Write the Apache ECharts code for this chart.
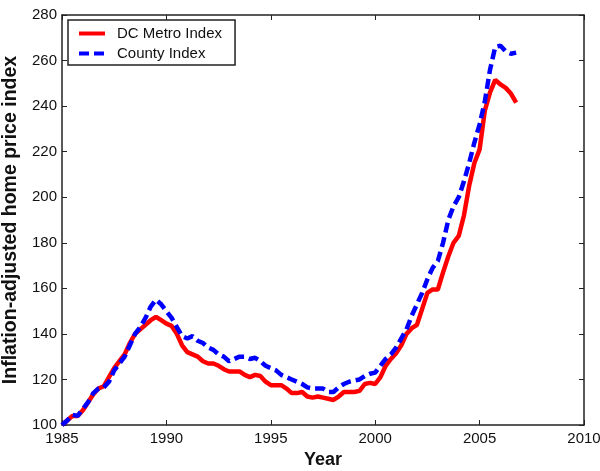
<!DOCTYPE html>
<html>
<head>
<meta charset="utf-8">
<script src="https://cdn.jsdelivr.net/npm/echarts@6/dist/echarts.min.js"></script>
<style>html,body{margin:0;padding:0;background:#fff;}#c{width:600px;height:471px;}</style>
</head>
<body>
<div id="c"></div>
<script>
const years = [];
for (let i = 0; i < 88; i++) years.push(1985 + i * 0.25);
const dcMetro = [
100,102,104,104, 106.5,110,113.5,116, 117,121,125,128, 131,136,140,142,
144,146,147.5,146, 144.5,143.5,140,135, 132,131,130,128, 127,127,126,124.5,
123.5,123.5,123.5,122, 121,122,121.5,119, 117.5,117.5,117.5,116, 114,114,114.5,112.5,
112,112.5,112,111.5, 111,112.5,114.5,114.5, 114.5,115,118,118.5, 118,121,126,129,
131.5,135,140,142.5, 144,151,158,159.5, 159.5,167,174,180, 183,192,205,215,
221,238,246,251.5, 249.5,248,245.5,241.5
];
const county = [
100,102,104.5,104, 107,110,114,116, 116.5,119,124,127, 130,135,140,143,
147,152,155,153, 150,147,143,139, 138,139,137,136, 134,133,131,130,
128,129,130,130, 129,129.5,128,126, 125,124,122,121, 120,119,118,116.5,
116,116,116,114.5, 114.5,116.5,118,119, 119.5,120,121.5,122.5, 123,126,129,131,
134,138,142,148, 153,158,164,169, 172,180,190,196, 200,207,215,224,
232,242,256,266, 266.5,264,263,263.5
];
const seriesNames = ['DC Metro Index', 'County Index'];
const xTicks = [1985, 1990, 1995, 2000, 2005, 2010];
const yTicks = [100, 120, 140, 160, 180, 200, 220, 240, 260, 280];

const pair = arr => years.map((y, i) => [y, arr[i]]);
const font = 'Liberation Sans, Arial, sans-serif';
const axisColor = '#222';

const chart = echarts.init(document.getElementById('c'));
chart.setOption({
  animation: false,
  backgroundColor: '#fff',
  grid: { left: 62, top: 15, right: 16, bottom: 46, containLabel: false, outerBoundsMode: 'none' },
  legend: {
    left: 68, top: 20, orient: 'vertical',
    backgroundColor: '#fff', borderColor: '#222', borderWidth: 1.5,
    padding: [6, 13, 4, 9], itemGap: 5, itemWidth: 26, itemHeight: 15,
    itemStyle: { opacity: 0 },
    lineStyle: { width: 4 },
    textStyle: { fontFamily: font, fontSize: 15, color: '#111', padding: [0, 0, 0, 7] },
    data: seriesNames
  },
  xAxis: [{
    type: 'value', min: xTicks[0], max: xTicks[xTicks.length - 1], interval: 5,
    name: 'Year', nameLocation: 'middle', nameGap: 23,
    nameTextStyle: { fontFamily: font, fontSize: 18, fontWeight: 'bold', color: '#111' },
    axisLine: { show: true, lineStyle: { color: axisColor, width: 1.5 } },
    axisTick: { inside: true, length: 5, lineStyle: { color: axisColor } },
    axisLabel: { fontFamily: font, fontSize: 15, color: '#111', margin: 6, formatter: v => String(v) },
    splitLine: { show: false }
  }, {
    type: 'value', position: 'top', min: xTicks[0], max: xTicks[xTicks.length - 1], interval: 5,
    axisLine: { show: true, lineStyle: { color: axisColor, width: 1.5 } },
    axisTick: { inside: true, length: 5, lineStyle: { color: axisColor } },
    axisLabel: { show: false }, splitLine: { show: false }
  }],
  yAxis: [{
    type: 'value', min: yTicks[0], max: yTicks[yTicks.length - 1], interval: 20,
    name: 'Inflation-adjusted home price index', nameLocation: 'middle', nameGap: 37,
    nameTextStyle: { fontFamily: font, fontSize: 19.5, fontWeight: 'bold', color: '#111' },
    axisLine: { show: true, lineStyle: { color: axisColor, width: 1.5 } },
    axisTick: { inside: true, length: 5, lineStyle: { color: axisColor } },
    axisLabel: { fontFamily: font, fontSize: 15, color: '#111', margin: 5 },
    splitLine: { show: false }
  }, {
    type: 'value', position: 'right', min: yTicks[0], max: yTicks[yTicks.length - 1], interval: 20,
    axisLine: { show: true, lineStyle: { color: axisColor, width: 1.5 } },
    axisTick: { inside: true, length: 5, lineStyle: { color: axisColor } },
    axisLabel: { show: false }, splitLine: { show: false }
  }],
  series: [{
    name: seriesNames[0], type: 'line', data: pair(dcMetro), showSymbol: false, symbol: 'none',
    lineStyle: { color: '#ff0000', width: 4.5 }, itemStyle: { color: '#ff0000' }, z: 2
  }, {
    name: seriesNames[1], type: 'line', data: pair(county), showSymbol: false, symbol: 'none',
    lineStyle: { color: '#0000ff', width: 4.5, type: [10, 5] }, itemStyle: { color: '#0000ff' }, z: 3
  }]
});
</script>
</body>
</html>
